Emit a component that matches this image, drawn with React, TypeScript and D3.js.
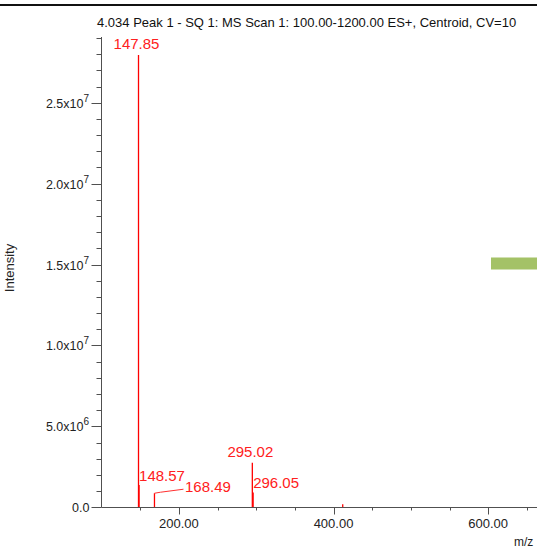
import React from "react";
import * as d3 from "d3";

const W = 537;
const H = 552;

const title = "4.034 Peak 1 - SQ 1: MS Scan 1: 100.00-1200.00 ES+, Centroid, CV=10";
const peakMz = [147.85, 148.57, 168.49, 295.02, 296.05, 411.9];
const peakIntensity = [2.795e7, 1.38e6, 0.87e6, 2.76e6, 0.91e6, 0.19e6];
// label mode: "top" centered above, "right" to the right of line, "leader" with leader line, "" none
const peakLabelMode = ["top", "right", "leader", "top", "right", ""];
const yMajorTicks = [0, 5e6, 1e7, 1.5e7, 2e7, 2.5e7];
const yMajorMant = ["0.0", "5.0", "1.0", "1.5", "2.0", "2.5"];
const yMajorExp = ["", "6", "7", "7", "7", "7"];
const xMajorTicks = [200, 400, 600, 800, 1000, 1200];

export default function App() {
  const x = d3.scaleLinear().domain([100, 1200]).range([101.5, 101.5 + 1100 * 0.7734]);
  const y = d3.scaleLinear().domain([0, 2.9e7]).range([507.3, 38]);
  const y0 = 507.5;
  const x0 = 101.5;
  const axisColor = "#505050";
  const font = "'Liberation Sans', Arial, sans-serif";

  const xMinor = d3.range(150, 1201, 50).filter((v) => v % 200 !== 0 && x(v) < W);
  const yMinor = d3.range(0, 2.91e7, 1e6).filter((v) => Math.round(v) % 5e6 !== 0);

  const px = (v: number) => Math.round(x(v)) + 0.5;

  return (
    <svg width={W} height={H} style={{ position: "absolute", left: 0, top: 0, background: "#fff" }} fontFamily={font}>
      <rect x={0} y={4} width={W} height={2} fill="#111" />
      <text x={97} y={27} fontSize={13} fill="#111">{title}</text>

      {/* y axis */}
      <line x1={x0} x2={x0} y1={37} y2={y0} stroke={axisColor} strokeWidth={1} />
      {yMinor.map((v, i) => (
        <line key={"ym" + i} x1={x0 - 5} x2={x0} y1={Math.round(y(v)) + 0.5} y2={Math.round(y(v)) + 0.5} stroke={axisColor} />
      ))}
      {yMajorTicks.map((v, i) => {
        const yy = Math.round(y(v)) + 0.5;
        return (
          <g key={"yM" + i}>
            <line x1={x0 - 10} x2={x0} y1={yy} y2={yy} stroke={axisColor} />
            {yMajorExp[i] ? (
              <text x={89} y={yy + 4.5} fontSize={12.5} textAnchor="end" fill="#222">
                {yMajorMant[i] + "x10"}
                <tspan fontSize={10} dy={-6}>{yMajorExp[i]}</tspan>
              </text>
            ) : (
              <text x={89.5} y={yy + 4.5} fontSize={12.5} textAnchor="end" fill="#222">{yMajorMant[i]}</text>
            )}
          </g>
        );
      })}

      {/* x axis */}
      <line x1={x0} x2={W} y1={y0} y2={y0} stroke={axisColor} strokeWidth={1} />
      {xMinor.map((v, i) => (
        <line key={"xm" + i} x1={px(v)} x2={px(v)} y1={y0} y2={y0 + 3} stroke={axisColor} />
      ))}
      {xMajorTicks.filter((v) => x(v) < W).map((v, i) => (
        <g key={"xM" + i}>
          <line x1={px(v)} x2={px(v)} y1={y0} y2={y0 + 7} stroke={axisColor} />
          {x(v) + 25 < W ? (
            <text x={x(v)} y={528} fontSize={13} textAnchor="middle" fill="#222">{v.toFixed(2)}</text>
          ) : null}
        </g>
      ))}

      <text x={14} y={268} fontSize={13} textAnchor="middle" fill="#222" transform="rotate(-90 14 268)">Intensity</text>
      <text x={514} y={546} fontSize={12} fill="#222">m/z</text>

      {/* peaks */}
      {peakMz.map((m, i) => {
        const xx = x(m);
        const yt = y(peakIntensity[i]);
        return <line key={"p" + i} x1={xx} x2={xx} y1={y0 - 0.5} y2={yt} stroke="#ff0000" strokeWidth={1.3} />;
      })}
      {peakMz.map((m, i) => {
        const mode = peakLabelMode[i];
        const xx = x(m);
        const yt = y(peakIntensity[i]);
        const lbl = m.toFixed(2);
        if (mode === "top") {
          return <text key={"l" + i} x={xx - 2} y={yt - 5.5} fontSize={15} textAnchor="middle" fill="#ff2020">{lbl}</text>;
        }
        if (mode === "right") {
          return <text key={"l" + i} x={xx} y={yt - 4.3} fontSize={15} fill="#ff2020">{lbl}</text>;
        }
        if (mode === "leader") {
          const pts: [number, number][] = [
            [xx, yt],
            [xx + 6, yt - 1],
            [xx + 29, yt - 4],
          ];
          const line = d3.line();
          return (
            <g key={"l" + i}>
              <path d={line(pts) || ""} fill="none" stroke="#ff3030" strokeWidth={1} />
              <text x={xx + 30.5} y={yt - 1.5} fontSize={15} fill="#ff2020">{lbl}</text>
            </g>
          );
        }
        return null;
      })}

      <rect x={491} y={257.5} width={46} height={12} fill="#a4c267" />
    </svg>
  );
}
